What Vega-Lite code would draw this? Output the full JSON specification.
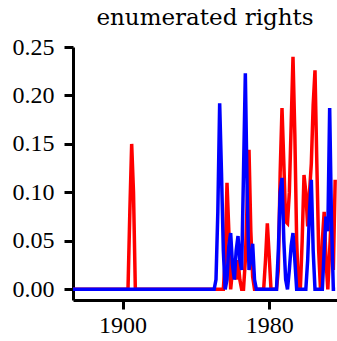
{
  "$schema": "https://vega.github.io/schema/vega-lite/v6.json",
  "width": 264,
  "height": 253,
  "autosize": "none",
  "padding": {"left": 73, "top": 47, "right": 0, "bottom": 41},
  "background": "white",
  "title": {"text": "enumerated rights", "font": "DejaVu Serif", "fontSize": 23, "fontWeight": "normal", "color": "black", "anchor": "middle", "baseline": "alphabetic", "offset": -13},
  "config": {"view": {"stroke": null}, "axis": {"grid": false, "domainColor": "black", "domainWidth": 3, "tickColor": "black", "tickWidth": 3, "tickSize": 9, "labelFont": "Liberation Serif", "labelFontSize": 24, "labelColor": "black", "title": null}},
  "data": {"values": [
    {"year":1873,"red":0,"blue":0},{"year":1874,"red":0,"blue":0},{"year":1875,"red":0,"blue":0},{"year":1876,"red":0,"blue":0},{"year":1877,"red":0,"blue":0},{"year":1878,"red":0,"blue":0},{"year":1879,"red":0,"blue":0},{"year":1880,"red":0,"blue":0},{"year":1881,"red":0,"blue":0},{"year":1882,"red":0,"blue":0},{"year":1883,"red":0,"blue":0},{"year":1884,"red":0,"blue":0},{"year":1885,"red":0,"blue":0},{"year":1886,"red":0,"blue":0},{"year":1887,"red":0,"blue":0},{"year":1888,"red":0,"blue":0},{"year":1889,"red":0,"blue":0},{"year":1890,"red":0,"blue":0},{"year":1891,"red":0,"blue":0},{"year":1892,"red":0,"blue":0},{"year":1893,"red":0,"blue":0},{"year":1894,"red":0,"blue":0},{"year":1895,"red":0,"blue":0},{"year":1896,"red":0,"blue":0},{"year":1897,"red":0,"blue":0},{"year":1898,"red":0,"blue":0},{"year":1899,"red":0,"blue":0},{"year":1900,"red":0,"blue":0},{"year":1901,"red":0,"blue":0},{"year":1902,"red":0,"blue":0},{"year":1903,"red":0,"blue":0},
    {"year":1904,"red":0.08,"blue":0},{"year":1905,"red":0.15,"blue":0},{"year":1906,"red":0.10,"blue":0},{"year":1907,"red":0,"blue":0},{"year":1908,"red":0,"blue":0},{"year":1909,"red":0,"blue":0},{"year":1910,"red":0,"blue":0},{"year":1911,"red":0,"blue":0},{"year":1912,"red":0,"blue":0},{"year":1913,"red":0,"blue":0},{"year":1914,"red":0,"blue":0},{"year":1915,"red":0,"blue":0},{"year":1916,"red":0,"blue":0},{"year":1917,"red":0,"blue":0},{"year":1918,"red":0,"blue":0},{"year":1919,"red":0,"blue":0},{"year":1920,"red":0,"blue":0},{"year":1921,"red":0,"blue":0},{"year":1922,"red":0,"blue":0},{"year":1923,"red":0,"blue":0},{"year":1924,"red":0,"blue":0},{"year":1925,"red":0,"blue":0},{"year":1926,"red":0,"blue":0},{"year":1927,"red":0,"blue":0},{"year":1928,"red":0,"blue":0},{"year":1929,"red":0,"blue":0},{"year":1930,"red":0,"blue":0},{"year":1931,"red":0,"blue":0},{"year":1932,"red":0,"blue":0},{"year":1933,"red":0,"blue":0},{"year":1934,"red":0,"blue":0},{"year":1935,"red":0,"blue":0},{"year":1936,"red":0,"blue":0},{"year":1937,"red":0,"blue":0},{"year":1938,"red":0,"blue":0},{"year":1939,"red":0,"blue":0},{"year":1940,"red":0,"blue":0},{"year":1941,"red":0,"blue":0},{"year":1942,"red":0,"blue":0},{"year":1943,"red":0,"blue":0},{"year":1944,"red":0,"blue":0},{"year":1945,"red":0,"blue":0},{"year":1946,"red":0,"blue":0},{"year":1947,"red":0,"blue":0},{"year":1948,"red":0,"blue":0},{"year":1949,"red":0,"blue":0},{"year":1950,"red":0,"blue":0},
    {"year":1951,"red":0,"blue":0.01},{"year":1952,"red":0,"blue":0.08},{"year":1953,"red":0,"blue":0.192},{"year":1954,"red":0,"blue":0.12},{"year":1955,"red":0,"blue":0.04},{"year":1956,"red":0.03,"blue":0},{"year":1957,"red":0.11,"blue":0.01},{"year":1958,"red":0.06,"blue":0.045},{"year":1959,"red":0,"blue":0.058},{"year":1960,"red":0.02,"blue":0.025},{"year":1961,"red":0.03,"blue":0.01},{"year":1962,"red":0.01,"blue":0.04},{"year":1963,"red":0.03,"blue":0.055},{"year":1964,"red":0.01,"blue":0.03},{"year":1965,"red":0,"blue":0.02},{"year":1966,"red":0,"blue":0.12},{"year":1967,"red":0.03,"blue":0.223},{"year":1968,"red":0.09,"blue":0.10},{"year":1969,"red":0.144,"blue":0.02},{"year":1970,"red":0.06,"blue":0.03},{"year":1971,"red":0.013,"blue":0.047},{"year":1972,"red":0,"blue":0.01},{"year":1973,"red":0,"blue":0},{"year":1974,"red":0,"blue":0},{"year":1975,"red":0,"blue":0},{"year":1976,"red":0,"blue":0},{"year":1977,"red":0,"blue":0},{"year":1978,"red":0.03,"blue":0},{"year":1979,"red":0.068,"blue":0},{"year":1980,"red":0.035,"blue":0},{"year":1981,"red":0,"blue":0},{"year":1982,"red":0,"blue":0},{"year":1983,"red":0,"blue":0},{"year":1984,"red":0,"blue":0},
    {"year":1985,"red":0.02,"blue":0.04},{"year":1986,"red":0.12,"blue":0.10},{"year":1987,"red":0.187,"blue":0.115},{"year":1988,"red":0.13,"blue":0.05},{"year":1989,"red":0.07,"blue":0.01},{"year":1990,"red":0.068,"blue":0},{"year":1991,"red":0.10,"blue":0.02},{"year":1992,"red":0.17,"blue":0.045},{"year":1993,"red":0.24,"blue":0.058},{"year":1994,"red":0.16,"blue":0.03},{"year":1995,"red":0.05,"blue":0},{"year":1996,"red":0,"blue":0},{"year":1997,"red":0,"blue":0},{"year":1998,"red":0.05,"blue":0},{"year":1999,"red":0.118,"blue":0},{"year":2000,"red":0.10,"blue":0},{"year":2001,"red":0.065,"blue":0.03},{"year":2002,"red":0.10,"blue":0.08},{"year":2003,"red":0.13,"blue":0.113},{"year":2004,"red":0.19,"blue":0.04},{"year":2005,"red":0.226,"blue":0},{"year":2006,"red":0.13,"blue":0},{"year":2007,"red":0.04,"blue":0},{"year":2008,"red":0,"blue":0},{"year":2009,"red":0.05,"blue":0},{"year":2010,"red":0.08,"blue":0.04},{"year":2011,"red":0.03,"blue":0.075},{"year":2012,"red":0,"blue":0.06},{"year":2013,"red":0.04,"blue":0.187},{"year":2014,"red":0.08,"blue":0.07},{"year":2015,"red":0.02,"blue":0},{"year":2016,"red":0.113,"blue":0}
  ]},
  "encoding": {
    "x": {"field": "year", "type": "quantitative", "scale": {"domain": [1873, 2017], "nice": false, "zero": false}, "axis": {"values": [1900, 1980], "format": "d", "labelPadding": 4, "labelFlush": false}}
  },
  "layer": [
    {"mark": {"type": "line", "color": "#ff0000", "strokeWidth": 3.5, "clip": true},
     "encoding": {"y": {"field": "red", "type": "quantitative", "scale": {"domain": [-0.011, 0.25], "nice": false, "zero": false}, "axis": {"values": [0, 0.05, 0.1, 0.15, 0.2, 0.25], "format": ".2f", "labelPadding": 10}}}},
    {"mark": {"type": "line", "color": "#0000ff", "strokeWidth": 3.5, "clip": true},
     "encoding": {"y": {"field": "blue", "type": "quantitative"}}}
  ]
}
